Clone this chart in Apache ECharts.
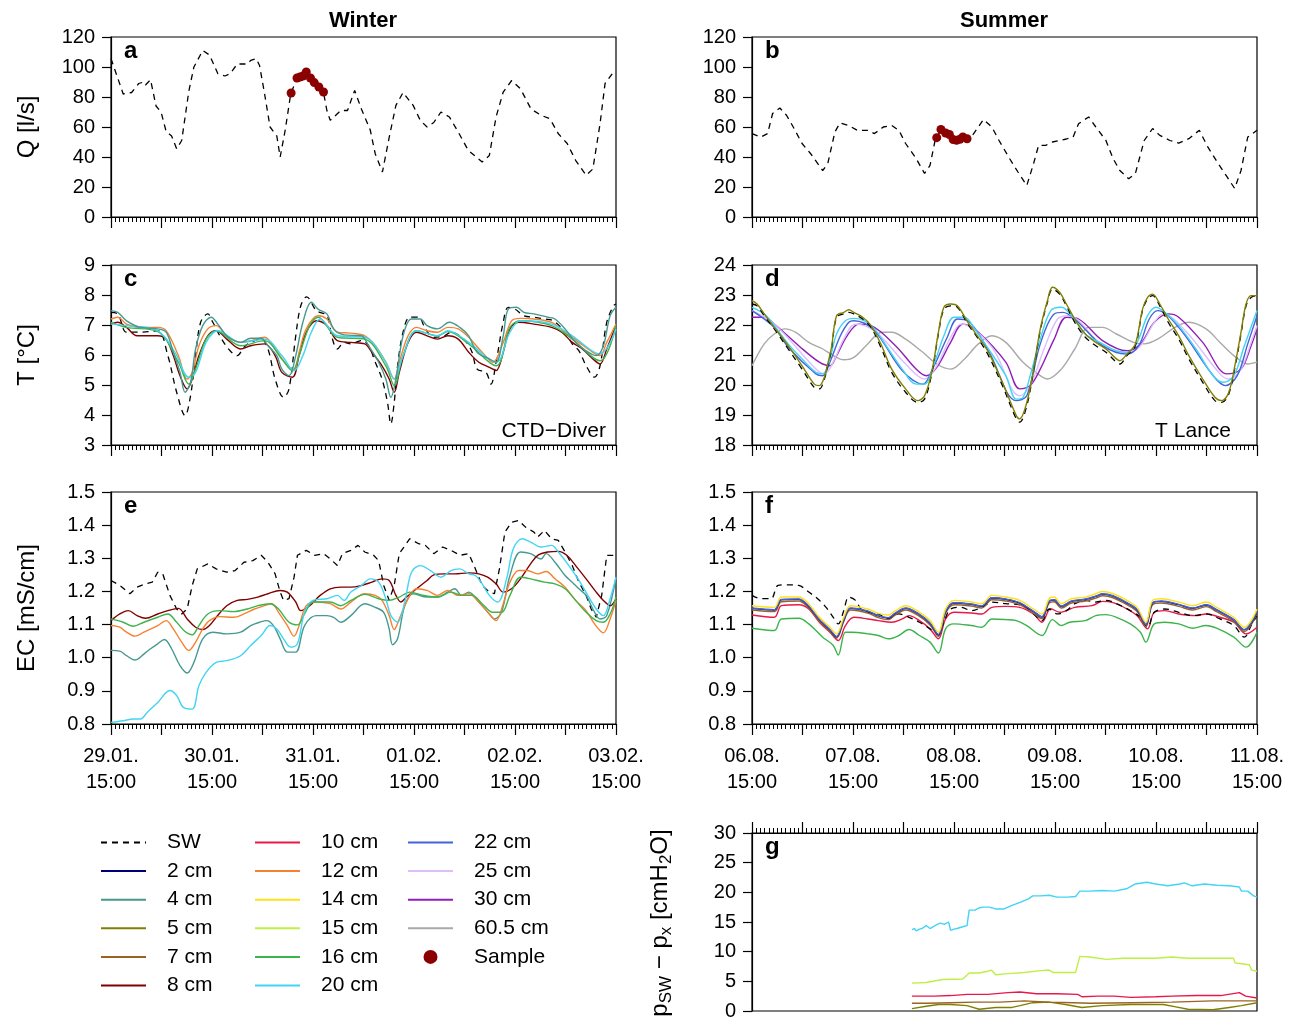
<!DOCTYPE html>
<html><head><meta charset="utf-8">
<script src="https://cdn.jsdelivr.net/npm/echarts@6/dist/echarts.min.js"></script>
<style>html,body{margin:0;padding:0;background:#fff}#c{width:1293px;height:1021px}</style>
</head><body><div id="c"></div><script>
// ---------- tick labels ----------
const winterDates = ['29.01.','30.01.','31.01.','01.02.','02.02.','03.02.'];
const summerDates = ['06.08.','07.08.','08.08.','09.08.','10.08.','11.08.'];
const timeOfDay = '15:00';
// ---------- data: [hours since start, value] ----------
const qWinterSW = [[0,105.6],[2.9,82],[4.9,83],[6.6,89],[7.8,90],[8.2,88],[9.4,91.5],[10.7,74],[11.9,70],[13.1,57],[14.4,54],[15.6,45.5],[16.8,51],[18.5,84],[19.7,100],[21.8,111],[23.4,108],[25.4,95.5],[27.1,94],[28.3,95.5],[30,102],[32.4,102],[33.2,104.4],[34.5,105.6],[35.3,101],[36.5,82],[37.8,60],[39.4,54],[40.2,40],[41.4,58],[42.7,82],[44.2,92.5],[46.4,96.5],[48.3,89.5],[50.5,83],[51.3,71],[52.1,64.4],[54.6,71],[56.2,71],[57.9,84.4],[59.5,72],[61.6,58],[62.8,42],[64.5,30],[66.1,53],[67.7,74.4],[69.4,83],[71.8,74.4],[73.5,64.4],[75.1,60],[76.7,63],[78.4,70],[80.4,66.7],[82.5,56.7],[84.9,44.4],[88.2,36.7],[89.9,41],[91.5,66.7],[93.2,83.3],[95.2,91],[97.3,85.5],[99.8,72],[102.2,67.8],[104.3,65.5],[106.3,55.5],[108.4,49],[110.4,37.8],[112.9,27.8],[114.5,32],[116.2,62],[117.4,89],[119.1,95.5],[120,94.4]];
const qWinterSample = [[42.8,82.7],[44.2,92.7],[44.9,93.3],[45.6,94],[46.4,96.7],[47.4,92.7],[48.3,89.6],[49.4,86.7],[50.5,83.3]];
const qSummerSW = [[0,55.6],[2.1,53.3],[3.7,55.6],[4.9,69],[6.6,72.7],[8.2,67.8],[9.8,60],[11.9,49],[14,42],[16.8,31],[18,35.5],[19.7,56.7],[20.9,62.7],[23,61],[25,57.8],[27.5,57.8],[29.1,55.6],[31.2,60],[33.2,61],[34.9,57.8],[36.5,49],[39,39],[41,29],[42.3,34.4],[43.5,51],[44.9,58],[46.5,55.5],[48.6,51],[50.1,53],[52.1,53.3],[55,65],[57,60],[58.7,51],[61.2,39],[63.2,30],[65.3,21],[66.9,35.5],[68.1,47.8],[69.8,47.8],[71.4,50],[73,51],[74.7,52],[76.3,53.3],[77.6,62.2],[80,66.7],[81.7,60],[84.1,51],[85.8,39],[87.4,31],[89.5,25.5],[91.1,29],[93.2,51],[95.2,59],[96.9,54.4],[99.3,51],[101.4,49.3],[103.8,52.2],[106.3,57.8],[108.3,46.7],[110.8,35.5],[112.9,26.7],[114.7,19],[116.2,31],[117.8,53.3],[120,57.8]];
const qSummerSample = [[43.9,52.9],[44.9,58.4],[46.0,56],[46.9,55],[47.8,51.6],[48.6,51.1],[49.4,51.8],[50.1,53.3],[51.1,52.2]];

const tWinterSW = [[0,7.42],[1.6,7.37],[3.7,6.76],[7.0,6.76],[11.1,6.81],[13.5,5.98],[15.6,4.76],[17.6,3.98],[18.9,4.64],[20.1,5.98],[21.3,7.09],[23.0,7.37],[24.2,7.09],[26.3,6.53],[28.3,6.14],[30.0,5.98],[31.6,6.26],[33.2,6.42],[35.7,6.53],[37.3,6.20],[39.0,5.20],[41.0,4.59],[42.3,4.87],[43.9,6.64],[45.1,7.64],[46.5,7.94],[48.8,7.48],[51.3,7.31],[52.5,6.59],[53.8,6.20],[55.4,6.42],[57.0,6.37],[59.5,6.48],[61.2,6.31],[62.8,5.76],[64.4,5.20],[65.7,4.42],[66.5,3.70],[67.3,4.42],[68.1,5.64],[69.4,6.76],[71.0,7.26],[73.1,7.26],[74.7,6.87],[76.7,6.59],[79.2,6.64],[80.8,6.76],[82.9,6.64],[84.5,6.42],[85.8,6.09],[87.0,5.53],[89.1,5.42],[90.3,5.03],[91.5,5.76],[93.2,7.09],[94.4,7.59],[96.0,7.53],[98.1,7.31],[100.5,7.26],[103.0,7.20],[105.1,7.14],[107.9,6.76],[109.6,6.37],[111.2,6.14],[112.9,5.64],[114.9,5.26],[116.2,5.64],[117.8,7.09],[119.4,7.64],[120,7.70]];
const tWinter4 = [[0,7.48],[1.6,7.42],[3.7,7.14],[7.0,6.92],[11.1,6.87],[13.1,6.76],[14.8,6.09],[16.4,5.42],[17.6,4.76],[18.9,5.09],[20.1,6.20],[21.8,6.98],[23.8,7.26],[25.4,7.03],[27.5,6.64],[30.8,6.42],[33.2,6.56],[35.7,6.56],[37.3,6.31],[39.4,5.98],[40.6,5.53],[42.3,5.31],[43.9,5.98],[45.6,7.09],[47.6,7.76],[49.2,7.53],[51.3,7.37],[52.9,6.87],[55.4,6.67],[59.5,6.64],[61.2,6.31],[63.6,5.76],[65.3,5.20],[66.5,4.59],[67.7,5.20],[69.4,6.64],[71.4,7.20],[73.5,7.20],[75.1,6.98],[77.6,6.87],[80.4,7.09],[82.9,6.92],[85.0,6.64],[87.0,6.09],[89.9,5.87],[91.5,5.76],[93.2,6.64],[94.4,7.53],[96.4,7.59],[98.1,7.42],[100.5,7.37],[103.8,7.26],[105.5,7.20],[107.9,6.87],[110.4,6.42],[112.9,6.14],[115.3,5.98],[117.0,6.31],[118.6,7.31],[120,7.59]];
const tWinter8 = [[0,7.03],[1.6,7.09],[3.7,6.92],[6.2,6.64],[11.1,6.64],[13.1,6.53],[14.8,5.98],[16.4,5.31],[18.1,4.87],[19.3,5.20],[20.9,5.98],[23.0,6.64],[25.0,6.81],[27.5,6.53],[30.8,6.20],[33.2,6.31],[36.5,6.37],[39.0,5.98],[40.6,5.42],[43.1,5.26],[44.7,5.98],[46.4,6.76],[48.8,7.14],[51.3,6.98],[53.8,6.48],[57.0,6.42],[60.3,6.37],[62.0,6.09],[64.4,5.64],[66.1,5.20],[67.3,4.76],[68.5,5.42],[70.6,6.42],[72.6,6.76],[75.1,6.64],[77.6,6.53],[80.0,6.64],[82.5,6.53],[85.0,6.09],[87.4,5.76],[89.9,5.59],[91.5,5.48],[93.2,6.09],[94.8,6.87],[96.9,7.09],[100.5,7.03],[104.7,6.92],[107.1,6.76],[109.6,6.42],[112.0,6.20],[114.5,5.87],[116.2,5.70],[117.8,6.20],[120,6.98]];
const tWinter12 = [[0,7.20],[1.6,7.26],[3.7,7.03],[7.0,6.92],[11.1,6.92],[13.1,6.81],[16.0,5.98],[18.1,5.20],[19.3,5.42],[20.9,6.31],[23.0,6.87],[25.0,6.98],[27.5,6.64],[30.8,6.42],[33.2,6.48],[36.5,6.59],[39.0,6.20],[41.9,5.64],[43.5,5.48],[44.7,6.09],[46.4,6.87],[49.2,7.31],[51.3,7.20],[53.8,6.76],[57.0,6.73],[60.3,6.64],[62.8,6.31],[65.3,5.76],[67.3,5.20],[68.5,5.76],[70.6,6.64],[72.6,6.92],[75.1,6.81],[77.6,6.76],[80.0,6.92],[82.5,6.87],[85.0,6.59],[88.2,6.09],[90.7,5.76],[93.2,6.42],[95.2,7.14],[97.3,7.22],[100.5,7.20],[104.7,7.09],[107.9,6.76],[111.2,6.42],[114.5,6.09],[116.2,5.98],[117.8,6.42],[120,7.03]];
const tWinter16 = [[0,7.09],[3.7,6.92],[11.1,6.78],[16.0,5.76],[18.5,5.03],[20.1,5.53],[22.6,6.53],[25.0,6.81],[30.8,6.31],[36.5,6.48],[40.6,5.87],[43.1,5.48],[44.7,5.98],[47.2,6.98],[49.2,7.26],[53.8,6.59],[60.3,6.53],[65.3,5.64],[67.3,4.98],[69.4,5.98],[72.6,6.81],[77.6,6.64],[80.0,6.78],[85.0,6.37],[91.5,5.64],[94.8,6.92],[97.3,7.14],[104.7,6.98],[109.6,6.53],[116.2,5.81],[120,6.98]];
const tWinter20 = [[0,7.03],[3.7,6.98],[11.1,6.81],[15.2,6.09],[18.5,5.26],[20.1,5.42],[22.6,6.42],[25.4,6.81],[30.8,6.42],[36.5,6.53],[40.6,5.98],[43.5,5.48],[45.6,5.98],[47.6,6.76],[49.7,7.20],[53.8,6.64],[60.3,6.59],[65.3,5.76],[67.3,5.20],[69.4,5.98],[72.6,6.81],[77.6,6.64],[80.0,6.81],[85.0,6.42],[91.5,5.76],[94.8,6.76],[97.3,7.14],[104.7,7.03],[109.6,6.64],[116.2,6.03],[120,6.87]];

const tSummerSW = [[0,22.70],[1.2,22.64],[2.9,22.31],[5.3,21.87],[8.6,21.20],[11.9,20.53],[14.8,19.92],[16.0,19.87],[17.2,20.20],[18.1,20.70],[18.9,21.20],[20.1,22.26],[21.8,22.37],[23.0,22.42],[24.2,22.37],[26.3,22.20],[28.3,21.92],[30.8,21.20],[33.2,20.42],[36.5,19.76],[39.4,19.42],[41.0,19.53],[42.7,20.37],[44.3,21.70],[45.6,22.53],[47.2,22.64],[48.8,22.59],[51.3,22.03],[53.8,21.53],[56.2,20.98],[59.5,19.98],[62.8,18.87],[63.6,18.76],[65.3,19.31],[66.9,20.48],[68.5,21.81],[70.2,22.76],[71.4,23.20],[73.1,23.03],[74.7,22.64],[76.7,22.09],[79.2,21.59],[81.7,21.31],[84.1,21.09],[86.6,20.76],[87.4,20.70],[89.1,20.98],[91.1,21.31],[92.8,22.48],[94.0,22.87],[95.2,22.98],[96.9,22.64],[98.9,22.09],[101.4,21.53],[103.8,20.87],[107.1,20.09],[110.0,19.48],[111.6,19.42],[113.3,19.70],[114.9,20.70],[116.2,21.70],[117.4,22.64],[118.6,22.92],[120,22.98]];
const tSummer5 = [[0,22.81],[1.2,22.70],[2.9,22.37],[5.3,21.92],[8.6,21.31],[11.9,20.64],[14.8,20.03],[16.0,19.98],[17.2,20.26],[18.1,20.76],[18.9,21.26],[20.1,22.31],[21.8,22.42],[23.0,22.51],[24.2,22.42],[26.3,22.26],[28.3,21.98],[30.8,21.31],[33.2,20.53],[36.5,19.87],[39.4,19.48],[41.0,19.64],[42.7,20.42],[44.3,21.76],[45.6,22.59],[47.2,22.70],[48.8,22.64],[51.3,22.09],[53.8,21.59],[56.2,21.09],[59.5,20.09],[62.8,18.98],[63.6,18.87],[65.3,19.42],[66.9,20.53],[68.5,21.87],[70.2,22.81],[71.4,23.26],[73.1,23.09],[74.7,22.70],[76.7,22.20],[79.2,21.70],[81.7,21.42],[84.1,21.20],[86.6,20.87],[87.4,20.81],[89.1,21.03],[91.1,21.37],[92.8,22.53],[94.0,22.92],[95.2,23.03],[96.9,22.70],[98.9,22.20],[101.4,21.64],[103.8,20.98],[107.1,20.20],[110.0,19.59],[111.6,19.48],[113.3,19.76],[114.9,20.76],[116.2,21.76],[117.4,22.70],[118.6,22.98],[120,22.98]];
const tSummer20 = [[0,22.59],[2.9,22.37],[5.3,21.98],[8.6,21.37],[11.9,20.87],[15.2,20.42],[16.8,20.37],[18.5,20.87],[20.1,21.70],[22.2,22.14],[24.2,22.22],[26.7,22.14],[29.1,21.87],[32.4,21.20],[35.7,20.53],[39.0,20.03],[41.0,20.03],[43.1,20.64],[45.6,21.64],[48.0,22.26],[50.5,22.26],[52.9,21.87],[56.2,21.20],[60.3,20.31],[62.8,19.53],[64.4,19.59],[66.1,20.31],[68.5,21.53],[71.0,22.48],[73.5,22.59],[75.9,22.31],[79.2,21.70],[83.3,21.37],[86.6,21.14],[89.1,21.09],[91.5,21.42],[94.0,22.31],[96.0,22.59],[98.1,22.42],[101.4,21.98],[105.5,21.20],[109.6,20.31],[112.0,20.09],[114.5,20.31],[117.0,21.31],[120,22.48]];
const tSummer22 = [[0,22.48],[5.3,21.92],[8.6,21.26],[15.2,20.37],[16.8,20.31],[18.5,20.76],[21.0,21.64],[23.0,22.09],[24.2,22.14],[29.1,21.81],[35.7,20.48],[40.6,20.03],[43.1,20.59],[46.4,21.59],[48.8,22.20],[51.3,22.14],[56.2,21.14],[62.8,19.48],[65.3,19.64],[68.5,21.37],[71.8,22.37],[73.9,22.42],[76.7,22.20],[83.3,21.31],[89.1,21.03],[91.9,21.31],[94.4,22.20],[96.4,22.48],[101.4,21.92],[109.6,20.31],[112.5,19.98],[115.3,20.31],[117.8,21.37],[120,22.31]];
const tSummer25 = [[0,22.48],[5.3,22.03],[15.2,20.53],[17.2,20.37],[19.3,20.76],[21.8,21.53],[24.6,22.03],[29.5,21.76],[36.5,20.70],[41.0,20.20],[43.9,20.64],[47.2,21.59],[49.7,22.03],[57.0,21.26],[63.6,19.64],[66.1,19.98],[69.4,21.20],[72.6,22.20],[75.1,22.31],[83.3,21.31],[89.5,21.09],[92.3,21.31],[95.6,22.09],[97.7,22.37],[103.0,21.81],[111.2,20.37],[113.3,20.20],[116.2,20.53],[118.6,21.42],[120,21.98]];
const tSummer30 = [[0,22.26],[2.9,22.26],[5.3,22.03],[11.1,21.31],[16.0,20.76],[18.5,20.64],[20.1,20.98],[22.6,21.64],[25.4,22.03],[28.3,21.98],[34.1,21.31],[39.0,20.53],[41.4,20.31],[43.9,20.59],[47.2,21.42],[50.1,22.03],[53.8,21.76],[60.3,20.76],[63.6,19.87],[66.1,19.98],[68.5,20.53],[71.8,21.53],[74.7,22.26],[77.6,22.20],[83.3,21.48],[89.1,21.14],[92.3,21.37],[95.6,22.09],[98.9,22.37],[101.4,22.26],[107.1,21.42],[112.9,20.37],[116.2,20.53],[118.6,21.31],[120,21.87]];
const tSummer60 = [[0,20.64],[2.9,21.37],[5.3,21.70],[7.8,21.87],[10.3,21.76],[13.5,21.42],[16.8,21.20],[19.3,20.98],[21.8,20.84],[24.2,20.92],[27.5,21.37],[30.8,21.76],[33.2,21.76],[36.5,21.53],[40.6,21.09],[43.9,20.70],[47.2,20.53],[50.5,20.87],[53.8,21.37],[57.0,21.64],[60.3,21.42],[64.4,20.76],[68.5,20.31],[70.2,20.20],[73.5,20.53],[76.7,21.20],[80.0,21.92],[83.3,21.92],[86.6,21.70],[90.7,21.42],[93.2,21.37],[96.4,21.53],[100.5,21.92],[103.8,22.09],[107.9,21.87],[111.2,21.42],[114.5,20.98],[117.8,20.70],[120,20.76]];

const ecWinterSW = [[0,1.233],[2.1,1.218],[4.5,1.193],[6.2,1.213],[8.2,1.223],[9.8,1.228],[11.1,1.258],[12.3,1.253],[14.0,1.188],[15.6,1.147],[16.8,1.132],[18.1,1.147],[19.3,1.218],[20.5,1.268],[23.0,1.283],[25.0,1.268],[27.5,1.258],[29.5,1.263],[31.6,1.288],[33.7,1.293],[35.7,1.309],[37.3,1.288],[39.0,1.253],[40.2,1.198],[41.0,1.173],[42.3,1.178],[43.5,1.243],[44.3,1.309],[46.4,1.324],[48.4,1.309],[50.5,1.314],[52.1,1.298],[53.8,1.278],[55.0,1.314],[57.0,1.324],[58.7,1.339],[60.3,1.319],[62.4,1.309],[63.6,1.293],[64.8,1.218],[66.1,1.173],[67.3,1.218],[68.5,1.314],[71.0,1.359],[73.1,1.344],[74.7,1.339],[76.7,1.314],[78.8,1.334],[80.8,1.324],[82.9,1.309],[85.0,1.314],[86.6,1.268],[88.2,1.218],[89.9,1.198],[91.1,1.193],[92.3,1.268],[93.6,1.379],[95.2,1.409],[96.9,1.414],[98.5,1.394],[100.5,1.379],[101.4,1.364],[103.0,1.384],[104.7,1.359],[106.3,1.354],[107.9,1.319],[109.6,1.278],[111.2,1.228],[112.9,1.188],[114.1,1.147],[115.3,1.122],[116.6,1.188],[117.8,1.309],[120,1.309]];
const ecWinter4 = [[0,1.022],[2.1,1.020],[3.7,1.006],[5.7,0.993],[7.8,1.011],[9.4,1.027],[11.1,1.042],[12.7,1.055],[14.4,1.027],[16.4,0.976],[18.1,0.954],[19.7,0.986],[21.8,1.057],[24.2,1.077],[27.5,1.072],[30.8,1.077],[33.2,1.097],[35.3,1.107],[37.0,1.112],[38.6,1.097],[40.2,1.057],[41.9,1.017],[43.9,1.017],[46.0,1.097],[48.8,1.127],[51.3,1.127],[52.9,1.122],[54.6,1.107],[57.0,1.127],[60.3,1.163],[62.8,1.152],[64.8,1.137],[66.1,1.087],[66.9,1.039],[68.1,1.057],[69.8,1.157],[71.8,1.193],[75.1,1.183],[77.6,1.183],[80.0,1.198],[81.7,1.208],[83.3,1.188],[85.0,1.198],[87.4,1.168],[89.9,1.132],[91.1,1.117],[92.8,1.137],[94.8,1.248],[97.3,1.319],[99.7,1.314],[102.2,1.298],[103.4,1.314],[105.5,1.288],[107.9,1.248],[109.6,1.228],[111.2,1.208],[112.9,1.188],[114.5,1.147],[116.2,1.117],[117.8,1.127],[120,1.243]];
const ecWinter8 = [[0,1.112],[2.1,1.132],[4.1,1.142],[6.2,1.127],[8.2,1.119],[11.1,1.132],[13.5,1.142],[16.0,1.149],[18.1,1.117],[20.1,1.092],[21.8,1.085],[23.4,1.097],[25.0,1.122],[27.5,1.157],[30.0,1.173],[32.4,1.176],[34.9,1.183],[37.3,1.193],[40.2,1.203],[41.9,1.198],[43.9,1.168],[45.1,1.142],[47.2,1.157],[49.7,1.188],[52.1,1.208],[54.6,1.213],[57.0,1.213],[59.5,1.218],[62.0,1.228],[64.4,1.238],[66.1,1.233],[67.7,1.188],[68.9,1.168],[70.2,1.183],[72.6,1.208],[75.1,1.233],[76.7,1.250],[79.2,1.253],[81.7,1.253],[85.0,1.256],[87.4,1.253],[89.5,1.243],[91.5,1.223],[93.2,1.198],[95.2,1.208],[97.3,1.238],[99.7,1.283],[101.4,1.309],[103.8,1.319],[106.3,1.321],[108.3,1.309],[110.4,1.278],[112.9,1.238],[115.3,1.198],[117.0,1.173],[118.6,1.157],[120,1.178]];
const ecWinter12 = [[0,1.097],[2.1,1.092],[3.7,1.077],[5.7,1.065],[7.8,1.077],[11.1,1.097],[13.1,1.112],[14.8,1.087],[16.8,1.047],[18.5,1.022],[20.1,1.047],[21.8,1.087],[23.4,1.112],[25.9,1.124],[29.1,1.122],[31.6,1.132],[34.1,1.147],[36.5,1.157],[38.2,1.163],[39.8,1.137],[41.9,1.097],[43.5,1.065],[44.7,1.097],[46.4,1.157],[48.8,1.168],[52.1,1.163],[54.6,1.147],[57.0,1.168],[60.3,1.193],[62.8,1.188],[64.4,1.173],[66.1,1.127],[67.3,1.085],[68.5,1.117],[70.2,1.168],[72.6,1.208],[75.1,1.203],[77.6,1.188],[80.0,1.203],[82.5,1.188],[85.0,1.193],[87.4,1.168],[89.9,1.132],[91.5,1.112],[93.2,1.163],[94.8,1.228],[96.9,1.263],[98.9,1.263],[101.4,1.253],[103.4,1.260],[105.5,1.238],[107.9,1.213],[110.4,1.173],[112.9,1.142],[114.9,1.102],[117.0,1.075],[118.6,1.117],[120,1.173]];
const ecWinter16 = [[0,1.117],[2.9,1.107],[5.3,1.095],[7.8,1.107],[11.1,1.122],[13.5,1.132],[15.6,1.107],[17.6,1.079],[19.3,1.069],[20.9,1.097],[23.0,1.132],[25.9,1.142],[29.1,1.139],[32.4,1.147],[34.9,1.157],[37.8,1.163],[39.8,1.147],[42.3,1.107],[44.3,1.099],[46.0,1.132],[48.0,1.168],[52.1,1.168],[54.6,1.157],[57.0,1.173],[60.3,1.191],[63.6,1.178],[66.1,1.173],[68.5,1.183],[71.0,1.198],[74.3,1.188],[77.6,1.183],[80.8,1.198],[83.3,1.188],[85.8,1.188],[88.2,1.163],[90.7,1.137],[92.8,1.137],[94.8,1.188],[97.3,1.243],[99.7,1.238],[103.0,1.228],[105.5,1.223],[107.9,1.208],[110.4,1.173],[112.9,1.137],[115.3,1.112],[117.0,1.107],[118.6,1.132],[120,1.183]];
const ecWinter20 = [[0,0.805],[2.9,0.810],[5.3,0.815],[7.0,0.815],[8.6,0.835],[11.1,0.865],[14.0,0.901],[15.6,0.886],[17.2,0.850],[19.3,0.845],[20.9,0.916],[22.6,0.956],[25.0,0.986],[27.5,0.991],[30.8,1.006],[33.2,1.037],[35.7,1.067],[37.8,1.097],[39.4,1.087],[41.0,1.057],[42.7,1.032],[44.3,1.042],[46.0,1.137],[48.0,1.173],[51.3,1.178],[53.8,1.188],[55.4,1.173],[57.0,1.198],[59.5,1.218],[61.6,1.238],[63.6,1.228],[65.3,1.178],[66.5,1.127],[68.1,1.107],[69.8,1.168],[71.4,1.258],[73.5,1.278],[75.9,1.263],[78.4,1.243],[80.8,1.263],[82.9,1.268],[85.0,1.253],[86.6,1.248],[88.2,1.223],[89.9,1.188],[91.9,1.168],[94.0,1.238],[95.6,1.329],[97.7,1.359],[99.7,1.349],[102.2,1.334],[104.7,1.339],[106.3,1.319],[108.8,1.278],[111.2,1.233],[113.3,1.188],[115.3,1.147],[117.0,1.127],[118.6,1.178],[120,1.243]];

const ecSummerSW = [[0,1.188],[2.1,1.178],[4.5,1.178],[6.2,1.218],[8.6,1.220],[11.1,1.218],[13.5,1.198],[15.6,1.178],[17.6,1.152],[19.3,1.122],[20.5,1.102],[21.8,1.142],[23.0,1.183],[24.6,1.173],[25.9,1.147],[27.5,1.137],[30.0,1.132],[32.4,1.117],[34.9,1.132],[37.3,1.122],[39.8,1.107],[42.3,1.087],[44.3,1.069],[45.6,1.107],[47.2,1.147],[49.7,1.152],[52.1,1.142],[54.6,1.152],[57.0,1.168],[60.3,1.163],[64.4,1.157],[66.9,1.132],[68.9,1.112],[70.6,1.147],[72.6,1.132],[74.7,1.142],[76.7,1.163],[79.2,1.173],[81.7,1.168],[84.1,1.173],[86.6,1.163],[89.9,1.142],[92.3,1.122],[94.0,1.092],[95.6,1.137],[98.1,1.147],[101.4,1.137],[104.7,1.127],[107.9,1.132],[111.2,1.117],[114.5,1.097],[117.0,1.062],[118.6,1.097],[120,1.127]];
const ecSummer14 = [[0,1.157],[5.3,1.152],[7.0,1.183],[11.1,1.183],[13.1,1.168],[16.0,1.122],[18.5,1.092],[20.1,1.072],[21.8,1.122],[23.4,1.157],[27.5,1.147],[30.0,1.134],[32.4,1.129],[34.1,1.142],[36.5,1.157],[39.8,1.137],[42.3,1.112],[44.3,1.077],[46.0,1.147],[48.0,1.173],[52.1,1.168],[54.6,1.163],[57.0,1.188],[60.3,1.183],[63.6,1.173],[66.9,1.147],[68.9,1.132],[70.6,1.178],[71.8,1.183],[73.5,1.163],[75.9,1.178],[79.2,1.183],[81.7,1.193],[83.3,1.200],[85.8,1.193],[89.1,1.173],[91.5,1.152],[93.6,1.107],[95.2,1.173],[97.3,1.178],[101.4,1.168],[104.7,1.157],[107.9,1.168],[110.4,1.152],[114.5,1.122],[117.0,1.092],[118.6,1.112],[120,1.147]];
const ecSummer22 = [[0,1.150],[5.3,1.145],[7.0,1.176],[11.1,1.177],[13.1,1.161],[16.0,1.116],[18.5,1.085],[20.1,1.064],[21.8,1.115],[23.4,1.150],[27.5,1.141],[30.0,1.127],[32.4,1.121],[34.1,1.135],[36.5,1.150],[39.8,1.131],[42.3,1.105],[44.3,1.070],[46.0,1.140],[48.0,1.166],[52.1,1.162],[54.6,1.156],[57.0,1.181],[60.3,1.177],[63.6,1.166],[66.9,1.140],[68.9,1.124],[70.6,1.171],[71.8,1.175],[73.5,1.156],[75.9,1.171],[79.2,1.177],[81.7,1.186],[83.3,1.193],[85.8,1.187],[89.1,1.166],[91.5,1.145],[93.6,1.100],[95.2,1.166],[97.3,1.171],[101.4,1.161],[104.7,1.150],[107.9,1.160],[110.4,1.145],[114.5,1.115],[117.0,1.085],[118.6,1.105],[120,1.140]];
const ecSummer2 = [[0,1.149],[5.3,1.144],[7.0,1.175],[11.1,1.176],[13.1,1.160],[16.0,1.115],[18.5,1.084],[20.1,1.063],[21.8,1.114],[23.4,1.149],[27.5,1.140],[30.0,1.126],[32.4,1.120],[34.1,1.134],[36.5,1.149],[39.8,1.130],[42.3,1.104],[44.3,1.069],[46.0,1.139],[48.0,1.165],[52.1,1.161],[54.6,1.155],[57.0,1.180],[60.3,1.176],[63.6,1.165],[66.9,1.139],[68.9,1.123],[70.6,1.170],[71.8,1.174],[73.5,1.155],[75.9,1.170],[79.2,1.176],[81.7,1.185],[83.3,1.192],[85.8,1.186],[89.1,1.165],[91.5,1.144],[93.6,1.099],[95.2,1.165],[97.3,1.170],[101.4,1.160],[104.7,1.149],[107.9,1.159],[110.4,1.144],[114.5,1.114],[117.0,1.084],[118.6,1.104],[120,1.139]];
const ecSummer7 = [[0,1.144],[5.3,1.139],[7.0,1.169],[11.1,1.171],[13.1,1.155],[16.0,1.110],[18.5,1.079],[20.1,1.059],[21.8,1.109],[23.4,1.144],[27.5,1.135],[30.0,1.121],[32.4,1.115],[34.1,1.129],[36.5,1.144],[39.8,1.125],[42.3,1.099],[44.3,1.064],[46.0,1.134],[48.0,1.160],[52.1,1.156],[54.6,1.150],[57.0,1.175],[60.3,1.171],[63.6,1.160],[66.9,1.134],[68.9,1.118],[70.6,1.165],[71.8,1.169],[73.5,1.150],[75.9,1.165],[79.2,1.171],[81.7,1.180],[83.3,1.187],[85.8,1.181],[89.1,1.160],[91.5,1.139],[93.6,1.094],[95.2,1.160],[97.3,1.165],[101.4,1.155],[104.7,1.144],[107.9,1.154],[110.4,1.139],[114.5,1.109],[117.0,1.079],[118.6,1.099],[120,1.134]];
const ecSummer10 = [[0,1.129],[5.3,1.122],[7.0,1.157],[11.1,1.160],[13.5,1.147],[16.0,1.107],[18.5,1.077],[20.5,1.052],[22.2,1.097],[24.2,1.122],[27.5,1.117],[30.0,1.112],[33.2,1.107],[35.7,1.117],[37.3,1.127],[39.8,1.112],[42.3,1.087],[44.3,1.057],[46.0,1.117],[48.0,1.137],[52.1,1.135],[54.6,1.132],[57.0,1.152],[60.3,1.155],[63.6,1.152],[66.9,1.132],[68.9,1.107],[71.0,1.148],[73.1,1.137],[74.7,1.142],[76.7,1.152],[80.8,1.157],[83.3,1.170],[85.8,1.166],[89.1,1.147],[91.5,1.127],[94.0,1.087],[95.6,1.137],[98.1,1.142],[101.4,1.132],[105.5,1.127],[107.9,1.132],[111.2,1.122],[114.5,1.107],[117.4,1.072],[120,1.092]];
const ecSummer16 = [[0,1.089],[5.3,1.082],[7.0,1.117],[11.1,1.119],[13.5,1.102],[16.8,1.062],[19.3,1.037],[20.5,1.008],[22.2,1.077],[23.8,1.077],[27.5,1.072],[30.0,1.067],[32.4,1.057],[34.9,1.067],[37.3,1.085],[39.8,1.067],[42.3,1.047],[44.3,1.014],[46.0,1.087],[48.0,1.102],[52.1,1.097],[54.6,1.092],[57.0,1.117],[60.3,1.115],[62.8,1.112],[65.3,1.097],[68.9,1.067],[71.4,1.115],[73.5,1.097],[75.5,1.107],[79.2,1.112],[81.7,1.127],[84.1,1.130],[86.6,1.122],[89.9,1.102],[92.3,1.077],[93.6,1.047],[95.6,1.102],[98.1,1.107],[101.4,1.102],[104.7,1.089],[107.9,1.097],[110.4,1.089],[114.5,1.062],[117.4,1.032],[120,1.077]];

const dp20 = [[38.0,13.7],[38.6,13.9],[39.0,13.5],[39.8,13.8],[40.4,13.9],[41.4,14.4],[42.3,13.9],[43.3,14.3],[44.0,14.6],[44.8,14.8],[45.7,14.6],[46.7,15.0],[47.2,13.6],[48.0,13.8],[48.7,13.9],[50.1,14.2],[51.1,14.4],[51.6,17.0],[53.0,17.0],[54.0,17.4],[55.0,17.5],[56.4,17.5],[57.9,17.2],[59.9,17.2],[61.8,17.8],[63.7,18.3],[65.7,18.9],[66.7,19.4],[68.6,19.4],[70.6,19.5],[72.5,19.2],[74.9,19.2],[76.9,19.3],[77.9,20.2],[80.3,20.2],[83.2,20.3],[86.1,20.2],[89.0,20.6],[91.0,21.4],[93.9,21.7],[95.9,21.4],[98.8,21.1],[101.7,21.4],[102.7,21.6],[104.6,21.1],[107.5,21.4],[110.5,21.2],[113.4,21.1],[115.8,20.9],[116.3,20.2],[117.8,20.2],[119.2,19.4],[120,19.2]];
const dp15 = [[38.0,4.7],[41.4,4.8],[45.3,5.3],[50.1,5.4],[51.6,6.4],[54.0,6.4],[56.0,6.7],[56.9,6.9],[57.9,6.1],[60.8,6.3],[64.7,6.5],[68.6,6.8],[70.6,6.9],[71.5,6.5],[76.9,6.5],[77.9,9.2],[80.3,9.1],[84.2,8.7],[88.1,8.9],[91.9,8.9],[95.9,8.9],[99.8,9.1],[103.6,8.9],[109.5,8.9],[114.4,8.9],[114.8,8.1],[118.2,7.8],[118.7,6.9],[120,6.7]];
const dp10 = [[38.0,2.5],[43.3,2.5],[47.2,2.6],[51.1,2.8],[56.0,2.8],[60.8,3.1],[63.7,3.2],[67.6,2.9],[72.5,2.9],[77.4,2.8],[78.4,2.4],[82.2,2.5],[86.1,2.5],[90.0,2.3],[95.9,2.4],[99.8,2.5],[105.6,2.6],[111.4,2.6],[115.8,3.1],[117.3,2.5],[120,2.2]];
const dp7 = [[38.0,1.3],[41.4,1.3],[47.2,1.4],[53.0,1.5],[58.9,1.5],[64.7,1.7],[70.6,1.5],[76.4,1.4],[80.3,1.3],[90.0,1.4],[99.8,1.5],[109.5,1.7],[120,1.7]];
const dp5 = [[38.0,0.4],[41.4,0.8],[44.3,1.1],[47.2,1.1],[51.1,0.9],[54.0,0.3],[57.9,0.6],[61.8,0.6],[63.7,0.9],[66.7,1.4],[70.6,1.5],[74.5,1.1],[78.4,0.6],[83.2,0.9],[90.0,1.1],[97.8,1.1],[100.7,0.7],[103.6,0.3],[109.5,0.2],[113.4,0.6],[116.3,0.9],[120,1.4]];

// ---------- styles ----------
const FONT = "'Liberation Sans', Arial, Helvetica, sans-serif";
const colors = {'SW':'#000000','2 cm':'#000075','4 cm':'#469990','5 cm':'#808000','7 cm':'#9A6324','8 cm':'#800000',
  '10 cm':'#e6194B','12 cm':'#f58231','14 cm':'#ffe119','15 cm':'#bfef45','16 cm':'#3cb44b','20 cm':'#42d4f4',
  '22 cm':'#4363d8','25 cm':'#dcbeff','30 cm':'#911eb4','60.5 cm':'#a9a9a9','Sample':'#8b0000'};

const grids = [
  {left:111, top:37, width:505, height:180},
  {left:752, top:37, width:505, height:180},
  {left:111, top:265, width:505, height:180},
  {left:752, top:265, width:505, height:180},
  {left:111, top:492, width:505, height:232},
  {left:752, top:492, width:505, height:232},
  {left:752, top:833, width:505, height:180}
].map(g => Object.assign({show:true, borderColor:'#000', borderWidth:1.2, backgroundColor:'transparent'}, g));

function xAxis(i, dates, opts) {
  opts = opts || {};
  return {
    type:'value', gridIndex:i, min:0, max:120, interval:12, position: opts.top ? 'top' : 'bottom',
    axisLine:{show:true, onZero:false, lineStyle:{color:'#000', width:1.2}},
    axisTick:{show:true, length:11, lineStyle:{color:'#000', width:1.2}},
    minorTick:{show:true, splitNumber:12, length:5, lineStyle:{color:'#000', width:1}},
    splitLine:{show:false}, minorSplitLine:{show:false},
    axisLabel:{show: !!dates, fontSize:20, lineHeight:26, margin:19, color:'#000', fontFamily:FONT,
      formatter: v => (dates && v % 24 === 0) ? dates[v/24] + '\n' + timeOfDay : ''}
  };
}
function yAxis(i, min, max, interval, fmt) {
  return {
    type:'value', gridIndex:i, min, max, interval,
    axisLine:{show:true, onZero:false, lineStyle:{color:'#000', width:1.2}},
    axisTick:{show:true, length:9, lineStyle:{color:'#000', width:1.2}},
    splitLine:{show:false},
    axisLabel:{fontSize:20, margin:16, color:'#000', fontFamily:FONT, formatter: fmt || (v => String(v))}
  };
}

function line(name, data, idx, smooth) {
  const dashed = name === 'SW';
  return {
    name, type:'line', xAxisIndex:idx, yAxisIndex:idx, data, symbol:'none', showSymbol:false,
    smooth: smooth ? 0.35 : false, animation:false, silent:true,
    lineStyle:{color:colors[name], width: dashed ? 1.3 : 1.4, type: dashed ? [6,5] : 'solid'},
    itemStyle:{color:colors[name]}
  };
}
function samples(data, idx) {
  return {name:'Sample', type:'scatter', xAxisIndex:idx, yAxisIndex:idx, data, symbol:'circle', symbolSize:9,
    itemStyle:{color:colors['Sample'], opacity:1}, animation:false, silent:true, z:5};
}

const series = [
  line('SW', qWinterSW, 0, false), samples(qWinterSample, 0),
  line('SW', qSummerSW, 1, false), samples(qSummerSample, 1),
  line('SW', tWinterSW, 2, true), line('8 cm', tWinter8, 2, true), line('12 cm', tWinter12, 2, true),
  line('16 cm', tWinter16, 2, true), line('20 cm', tWinter20, 2, true), line('4 cm', tWinter4, 2, true),
  line('60.5 cm', tSummer60, 3, true), line('30 cm', tSummer30, 3, true), line('25 cm', tSummer25, 3, true),
  line('22 cm', tSummer22, 3, true), line('20 cm', tSummer20, 3, true), line('SW', tSummerSW, 3, true), line('5 cm', tSummer5, 3, true),
  line('SW', ecWinterSW, 4, false), line('4 cm', ecWinter4, 4, true), line('8 cm', ecWinter8, 4, true),
  line('12 cm', ecWinter12, 4, true), line('16 cm', ecWinter16, 4, true), line('20 cm', ecWinter20, 4, true),
  line('16 cm', ecSummer16, 5, true), line('10 cm', ecSummer10, 5, true), line('SW', ecSummerSW, 5, true), line('7 cm', ecSummer7, 5, true),
  line('2 cm', ecSummer2, 5, true), line('22 cm', ecSummer22, 5, true), line('14 cm', ecSummer14, 5, true),
  line('5 cm', dp5, 6, false), line('7 cm', dp7, 6, false), line('10 cm', dp10, 6, false), line('15 cm', dp15, 6, false), line('20 cm', dp20, 6, false)
];

const legendCols = [
  ['SW','2 cm','4 cm','5 cm','7 cm','8 cm'],
  ['10 cm','12 cm','14 cm','15 cm','16 cm','20 cm'],
  ['22 cm','25 cm','30 cm','60.5 cm','Sample']
];
const legendLefts = [100, 254, 407];
const legend = legendCols.map((col, k) => ({
  orient:'vertical', left:legendLefts[k], top:832, padding:0, itemWidth:45, itemHeight:14, itemGap:7.6,
  selectedMode:false, lineStyle:{width:2}, itemStyle:{opacity:0, borderWidth:0},
  textStyle:{fontSize:21, lineHeight:20, color:'#000', fontFamily:FONT, padding:[0,0,0,16]},
  data: col.map(n => n === 'Sample' ? {name:n, icon:'circle', itemStyle:{opacity:1, color:colors['Sample']}} : {name:n})
}));

function label(text, x, y) {
  return {type:'text', x, y, style:{text, font:'bold 24px ' + FONT, fill:'#000', align:'left', verticalAlign:'middle'}};
}
function ytitle(text, x, y) {
  return {type:'text', x, y, rotation:Math.PI/2, style:{text, font:'24px ' + FONT, fill:'#000', align:'center', verticalAlign:'middle'}};
}
const graphic = [
  {type:'text', x:363, y:21, style:{text:'Winter', font:'bold 22px ' + FONT, fill:'#000', align:'center', verticalAlign:'middle'}},
  {type:'text', x:1004, y:21, style:{text:'Summer', font:'bold 22px ' + FONT, fill:'#000', align:'center', verticalAlign:'middle'}},
  label('a', 124, 51), label('b', 765, 51), label('c', 124, 279), label('d', 765, 279),
  label('e', 124, 506), label('f', 765, 506), label('g', 765, 847),
  {type:'text', x:606, y:431, style:{text:'CTD\u2212Diver', font:'21px ' + FONT, fill:'#000', align:'right', verticalAlign:'middle'}},
  {type:'text', x:1231, y:431, style:{text:'T Lance', font:'21px ' + FONT, fill:'#000', align:'right', verticalAlign:'middle'}},
  ytitle('Q [l/s]', 27, 127), ytitle('T [°C]', 27, 355), ytitle('EC [mS/cm]', 27, 608),
  {type:'text', x:660, y:923, rotation:Math.PI/2, style:{
    text:'{m|p}{s|SW}{m| \u2212 p}{s|x}{m| [cmH}{s|2}{m|O]}',
    fill:'#000', align:'center', verticalAlign:'middle', fontFamily:FONT,
    rich:{ m:{fontSize:24, lineHeight:30, verticalAlign:'middle', fontFamily:FONT},
           s:{fontSize:17, lineHeight:30, verticalAlign:'bottom', fontFamily:FONT, padding:[0,0,0,0]} }
  }}
];

const chart = echarts.init(document.getElementById('c'), null, {renderer:'canvas'});
chart.setOption({
  animation:false, backgroundColor:'#fff', textStyle:{fontFamily:FONT},
  grid: grids,
  xAxis: [xAxis(0), xAxis(1), xAxis(2), xAxis(3), xAxis(4, winterDates), xAxis(5, summerDates), xAxis(6, null, {top:true})],
  yAxis: [yAxis(0,0,120,20), yAxis(1,0,120,20), yAxis(2,3,9,1), yAxis(3,18,24,1),
          yAxis(4,0.8,1.5,0.1, v => v.toFixed(1)), yAxis(5,0.8,1.5,0.1, v => v.toFixed(1)), yAxis(6,0,30,5)],
  legend, graphic, series
});
</script></body></html>
